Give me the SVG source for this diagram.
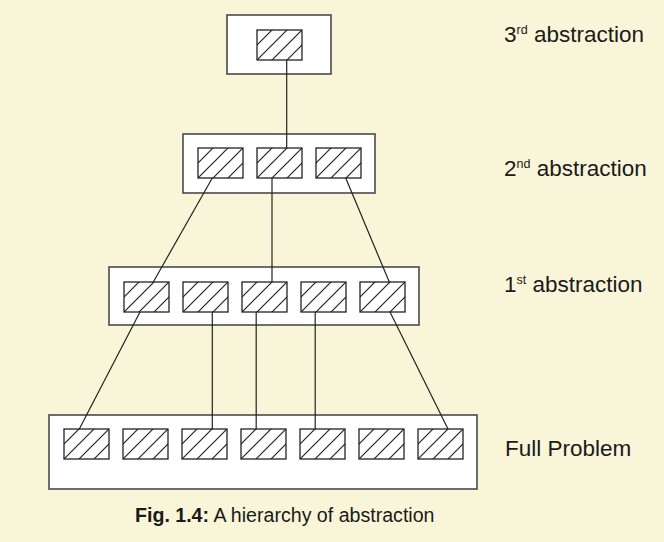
<svg xmlns="http://www.w3.org/2000/svg" width="664" height="542" viewBox="0 0 664 542">
<style>
.bg{fill:#f9f5d8}
.outer{fill:#ffffff;stroke:#4a4a4a;stroke-width:1.6}
.cell{fill:url(#hatch);stroke:#222222;stroke-width:1.3}
.conn{stroke:#222222;stroke-width:1.2;fill:none}
.lbl{font-family:"Liberation Sans",Arial,sans-serif;font-size:22.5px;fill:#1a1a1a}
.sup{font-size:12.5px}
.cap{font-family:"Liberation Sans",Arial,sans-serif;font-size:19.6px;fill:#1a1a1a}
</style>
<defs>
<pattern id="hatch" patternUnits="userSpaceOnUse" width="15" height="15">
<rect width="15" height="15" fill="#ffffff"/>
<path d="M0,15 L15,0 M-2,2 L2,-2 M13,17 L17,13" stroke="#222222" stroke-width="1.2"/>
</pattern>
<rect id="c" class="cell" x="0" y="0" width="45" height="30"/>
</defs>
<rect class="bg" x="0" y="0" width="664" height="542"/>

<g id="level3">
<rect class="outer" x="227" y="15" width="104" height="59"/>
<use href="#c" transform="translate(257,30)"/>
</g>

<g id="level2">
<rect class="outer" x="183" y="134" width="192" height="59"/>
<use href="#c" transform="translate(198,148)"/>
<use href="#c" transform="translate(257,148)"/>
<use href="#c" transform="translate(316,148)"/>
</g>

<g id="level1">
<rect class="outer" x="109" y="267" width="310" height="58"/>
<use href="#c" transform="translate(124,282)"/>
<use href="#c" transform="translate(183,282)"/>
<use href="#c" transform="translate(242,282)"/>
<use href="#c" transform="translate(301,282)"/>
<use href="#c" transform="translate(360,282)"/>
</g>

<g id="full">
<rect class="outer" x="49" y="415" width="428" height="74"/>
<use href="#c" transform="translate(64,429)"/>
<use href="#c" transform="translate(123,429)"/>
<use href="#c" transform="translate(182,429)"/>
<use href="#c" transform="translate(241,429)"/>
<use href="#c" transform="translate(300,429)"/>
<use href="#c" transform="translate(359,429)"/>
<use href="#c" transform="translate(418,429)"/>
</g>

<g id="connectors">
<line class="conn" x1="286.7" y1="60" x2="286.7" y2="148"/>
<line class="conn" x1="212.3" y1="178" x2="153.3" y2="282"/>
<line class="conn" x1="272" y1="178" x2="272" y2="282"/>
<line class="conn" x1="345.7" y1="178" x2="389.3" y2="282"/>
<line class="conn" x1="140" y1="312" x2="79.3" y2="429"/>
<line class="conn" x1="212.3" y1="312" x2="212.3" y2="429"/>
<line class="conn" x1="256.2" y1="312" x2="256.2" y2="429"/>
<line class="conn" x1="315.2" y1="312" x2="315.2" y2="429"/>
<line class="conn" x1="390" y1="312" x2="448" y2="429"/>
</g>

<g id="labels">
<text class="lbl" x="504" y="41.7">3<tspan class="sup" dy="-8">rd</tspan><tspan dy="8"> abstraction</tspan></text>
<text class="lbl" x="504" y="175.7">2<tspan class="sup" dy="-8">nd</tspan><tspan dy="8"> abstraction</tspan></text>
<text class="lbl" x="504" y="292.3">1<tspan class="sup" dy="-8">st</tspan><tspan dy="8"> abstraction</tspan></text>
<text class="lbl" x="505" y="456">Full Problem</text>
</g>

<g id="caption">
<text class="cap" x="135" y="522.3"><tspan font-weight="bold">Fig. 1.4:</tspan> A hierarchy of abstraction</text>
</g>
</svg>
